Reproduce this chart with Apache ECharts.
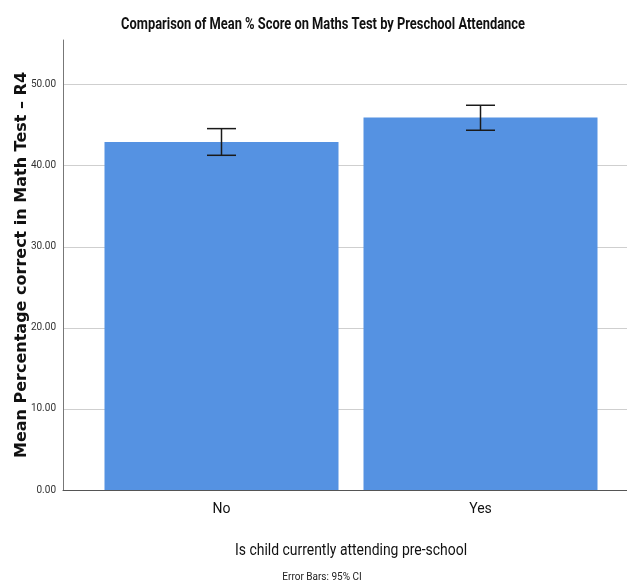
<!DOCTYPE html>
<html><head><meta charset="utf-8">
<script src="https://cdn.jsdelivr.net/npm/echarts@6/dist/echarts.min.js"></script>
<style>html,body{margin:0;padding:0;background:#fff}#c{width:627px;height:586px}</style>
</head><body><div id="c"></div>
<script>
const categories = ['No', 'Yes'];
const means = [42.93, 45.93];
const ciLower = [41.28, 44.37];
const ciUpper = [44.57, 47.45];
const yMin = 0, yMax = 55.5, yInterval = 10;

const narrow = "'Roboto', sans-serif";
const chart = echarts.init(document.getElementById('c'), null, {renderer: 'canvas'});
const errData = categories.map((c, i) => [i, ciLower[i], ciUpper[i]]);

chart.setOption({
  animation: false,
  grid: [
    {left: 63, right: 0, top: 40, bottom: 96},
    {left: 92, right: 17, top: 40, bottom: 96}
  ],
  xAxis: [
    {gridIndex: 0, type: 'value', min: 0, max: 1,
     axisLine: {show: true, onZero: false, lineStyle: {color: '#555', width: 1}},
     axisTick: {show: false}, axisLabel: {show: false}, splitLine: {show: false}},
    {gridIndex: 1, type: 'category', data: categories,
     axisLine: {show: false}, axisTick: {show: false},
     axisLabel: {margin: 12, fontFamily: narrow, fontSize: 14, color: '#111'}}
  ],
  yAxis: [
    {gridIndex: 0, type: 'value', min: yMin, max: yMax, interval: yInterval,
     axisLine: {show: true, lineStyle: {color: '#777', width: 1}},
     axisTick: {show: false},
     axisLabel: {showMaxLabel: false, margin: 7, fontFamily: narrow, fontSize: 10, color: '#333',
                 formatter: v => v.toFixed(2)},
     splitLine: {show: true, showMaxLine: false, lineStyle: {color: '#cfcfcf', width: 1}},
     name: 'Mean Percentage correct in Math Test \u2013 R4', nameLocation: 'middle', nameGap: 33,
     nameMoveOverlap: false,
     nameTextStyle: {fontFamily: "'DejaVu Sans', sans-serif", fontSize: 16, fontWeight: 'bold', color: '#111'}},
    {gridIndex: 1, type: 'value', min: yMin, max: yMax, interval: yInterval, show: false}
  ],
  series: [
    {type: 'bar', xAxisIndex: 1, yAxisIndex: 1, data: means, barWidth: 234,
     itemStyle: {color: '#5592e2'}},
    {type: 'custom', xAxisIndex: 1, yAxisIndex: 1, data: errData, z: 10,
     renderItem: (params, api) => {
       const lo = api.coord([api.value(0), api.value(1)]);
       const hi = api.coord([api.value(0), api.value(2)]);
       const hw = 14.5;
       const st = {stroke: '#1a1a1a', lineWidth: 1.5};
       return {type: 'group', children: [
         {type: 'line', shape: {x1: lo[0], y1: lo[1], x2: hi[0], y2: hi[1]}, style: st},
         {type: 'line', shape: {x1: lo[0]-hw, y1: lo[1], x2: lo[0]+hw, y2: lo[1]}, style: st},
         {type: 'line', shape: {x1: hi[0]-hw, y1: hi[1], x2: hi[0]+hw, y2: hi[1]}, style: st}
       ]};
     }}
  ],
  graphic: [
    {type: 'text', x: 323, y: 25, scaleX: 0.78,
     style: {text: 'Comparison of Mean % Score on Maths Test by Preschool Attendance', fontFamily: narrow,
             fontSize: 16.5, fontWeight: 'bold', fill: '#111', align: 'center', verticalAlign: 'middle'}},
    {type: 'text', x: 351, y: 551, scaleX: 0.82,
     style: {text: 'Is child currently attending pre-school', fontFamily: narrow,
             fontSize: 17, fill: '#111', align: 'center', verticalAlign: 'middle'}},
    {type: 'text', x: 322, y: 572, style: {text: 'Error Bars: 95% CI', fontFamily: narrow, fontSize: 10, fill: '#222', align: 'center'}}
  ]
});
</script></body></html>
